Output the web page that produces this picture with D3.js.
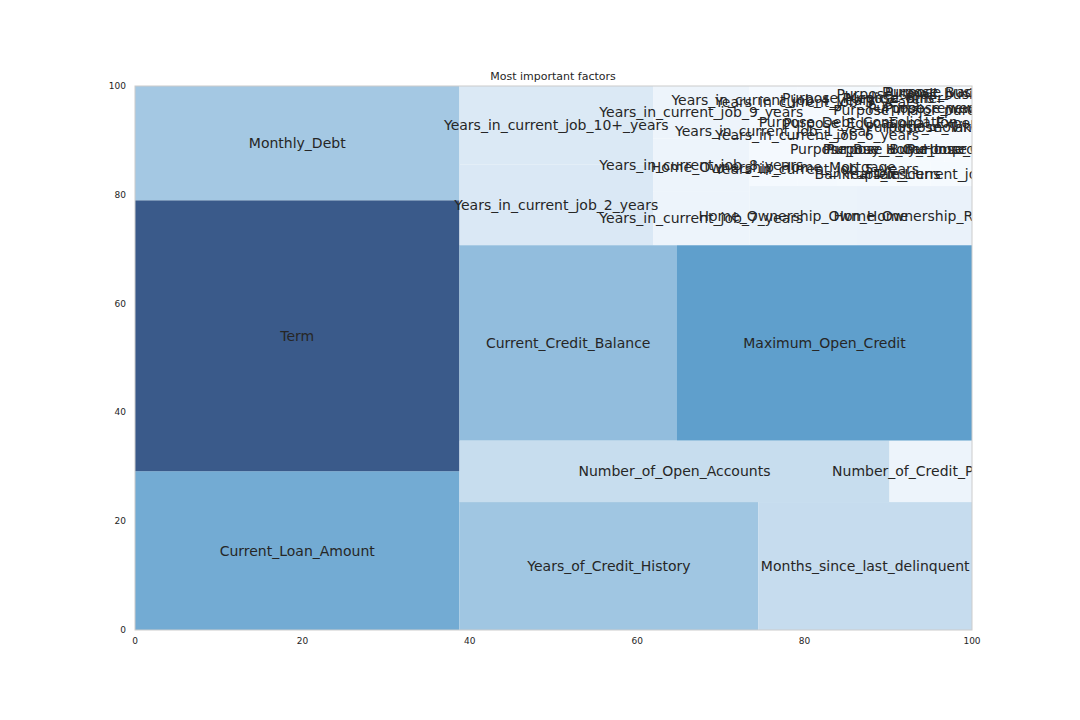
<!DOCTYPE html>
<html><head><meta charset="utf-8">
<script src="https://cdn.jsdelivr.net/npm/d3@7"></script>
<style>body{margin:0;background:#fff}text{font-family:"DejaVu Sans",sans-serif}</style>
</head><body><svg id="viz" width="1080" height="720"></svg>
<script>
// factor names and importances, in plotting order
var labels = ['Current_Loan_Amount','Term','Monthly_Debt','Years_of_Credit_History','Months_since_last_delinquent',
  'Number_of_Open_Accounts','Number_of_Credit_Problems','Current_Credit_Balance','Maximum_Open_Credit',
  'Years_in_current_job_2_years','Years_in_current_job_10+_years',
  'Years_in_current_job_7_years','Years_in_current_job_8_years','Years_in_current_job_9_years',
  'Home_Ownership_Own_Home','Home_Ownership_Rent',
  'Home_Ownership_Home_Mortgage','Years_in_current_job_1_year','Years_in_current_job_4_years','Years_in_current_job_5_years',
  'Years_in_current_job_6_years','Years_in_current_job_3_years','Bankruptcies','Tax_Liens','Years_in_current_job_<_1_year',
  'Purpose_Buy_a_Car','Purpose_Debt_Consolidation','Purpose_Medical_Bills','Purpose_Buy_House','Purpose_Home_Improvements',
  'Purpose_Other','Purpose_Educational_Expenses','Purpose_other','Purpose_moving','Purpose_Take_a_Trip','Purpose_major_purchase',
  'Purpose_small_business','Purpose_wedding','Purpose_renewable_energy','Purpose_vacation','Purpose_Business_Loan'];
var values = [1137,1940,818,844,603,584,112,938,1272,
  345,335,
  115,112,112,
  140,150,
  40,35,30,30,30,28,25,25,22,
  25,24,22,20,18,16,15,14,13,12,11,10,9,7,6,4];
var ticks = [0,20,40,60,80,100];

// squarify (same steps as the python package)
function layoutrow(s,x,y,dx,dy){var c=d3.sum(s),h=c/dx,r=[];s.forEach(function(v){r.push({x:x,y:y,dx:v/h,dy:h});x+=v/h});return r}
function layoutcol(s,x,y,dx,dy){var c=d3.sum(s),w=c/dy,r=[];s.forEach(function(v){r.push({x:x,y:y,dx:w,dy:v/w});y+=v/w});return r}
function layout(s,x,y,dx,dy){return dx>=dy?layoutcol(s,x,y,dx,dy):layoutrow(s,x,y,dx,dy)}
function leftover(s,x,y,dx,dy){var c=d3.sum(s);if(dx>=dy){var w=c/dy;return [x+w,y,dx-w,dy]}var h=c/dx;return [x,y+h,dx,dy-h]}
function worst(s,x,y,dx,dy){return d3.max(layout(s,x,y,dx,dy),function(r){return Math.max(r.dx/r.dy,r.dy/r.dx)})}
function squarify(s,x,y,dx,dy){
  if(!s.length) return [];
  if(s.length==1) return layout(s,x,y,dx,dy);
  var i=1;
  while(i<s.length && worst(s.slice(0,i),x,y,dx,dy)>=worst(s.slice(0,i+1),x,y,dx,dy)) i++;
  var cur=s.slice(0,i),rem=s.slice(i),lo=leftover(cur,x,y,dx,dy);
  return layout(cur,x,y,dx,dy).concat(squarify(rem,lo[0],lo[1],lo[2],lo[3]));
}
var tot=d3.sum(values);
var rects=squarify(values.map(function(v){return v*10000/tot}),0,0,100,100);

var svg=d3.select('#viz');
var x=d3.scaleLinear().domain([0,100]).range([135,972]);
var y=d3.scaleLinear().domain([0,100]).range([630,86]);
var color=d3.scaleLinear().domain([0,150,600,1270,1940]).range(['#f7fbff','#eaf2fa','#c6dcee','#5f9fcc','#3a5a8a']);

svg.append('clipPath').attr('id','cp').append('rect').attr('x',135).attr('y',86).attr('width',837).attr('height',544);
var g=svg.append('g').attr('clip-path','url(#cp)');
g.selectAll('rect.c').data(rects).enter().append('rect').attr('class','c')
  .attr('x',function(d){return x(d.x)}).attr('y',function(d){return y(d.y+d.dy)})
  .attr('width',function(d){return x(d.x+d.dx)-x(d.x)}).attr('height',function(d){return y(d.y)-y(d.y+d.dy)})
  .attr('fill',function(d,i){return color(values[i])});
g.selectAll('text').data(rects).enter().append('text')
  .attr('x',function(d){return x(d.x+d.dx/2)}).attr('y',function(d){return y(d.y+d.dy/2)})
  .attr('text-anchor','middle').attr('dominant-baseline','central').attr('font-size',14).attr('fill','#262626')
  .text(function(d,i){return labels[i]});

svg.append('rect').attr('x',135).attr('y',86).attr('width',837).attr('height',544).attr('fill','none').attr('stroke','#cccccc');
svg.append('g').selectAll('text').data(ticks).enter().append('text').attr('x',function(d){return x(d)}).attr('y',644)
  .attr('text-anchor','middle').attr('font-size',9).attr('fill','#262626').text(function(d){return d});
svg.append('g').selectAll('text').data(ticks).enter().append('text').attr('x',126).attr('y',function(d){return y(d)+3})
  .attr('text-anchor','end').attr('font-size',9).attr('fill','#262626').text(function(d){return d});
svg.append('text').attr('x',553).attr('y',80).attr('text-anchor','middle').attr('font-size',11).attr('fill','#262626').text('Most important factors');
</script></body></html>
